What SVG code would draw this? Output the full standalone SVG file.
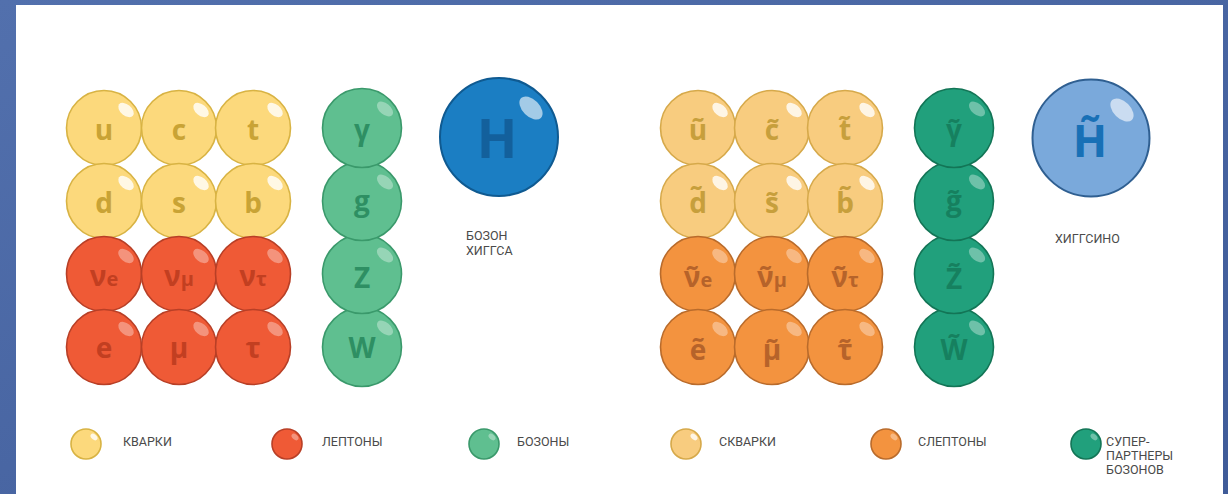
<svg xmlns="http://www.w3.org/2000/svg" width="1228" height="494" viewBox="0 0 1228 494">
<defs>
<linearGradient id="bg" x1="0" y1="0" x2="1" y2="1">
<stop offset="0" stop-color="#5270ad"/>
<stop offset="1" stop-color="#3f5b98"/>
</linearGradient>
</defs>
<style>
.q{fill:#fcd97c;stroke:#d8b343;stroke-width:1.6}
.l{fill:#ef5a36;stroke:#b83f26;stroke-width:1.6}
.b{fill:#5fbf90;stroke:#3a996b;stroke-width:1.6}
.sq{fill:#f8cc7f;stroke:#d6a94a;stroke-width:1.6}
.sl{fill:#f3933f;stroke:#b96b2b;stroke-width:1.6}
.sb{fill:#21a07c;stroke:#137556;stroke-width:1.6}
.h{fill:#1b7ec3;stroke:#0f5a91;stroke-width:2}
.hs{fill:#7aa9db;stroke:#2f5f91;stroke-width:2}
.hl{fill:#ffffff;opacity:0.8}
.hl2{fill:#ffffff;opacity:0.35}
.t{font-family:"Open Sans",sans-serif;font-weight:700;font-size:28px;text-anchor:middle}
.sub{font-size:20px}
.tq{fill:#c9a335}
.tlp{fill:#c23f21}
.tb{fill:#2e8f63}
.tsq{fill:#c79f3c}
.tsl{fill:#b6632a}
.tsb{fill:#16805f}
.lab{font-family:Roboto,"Liberation Sans",sans-serif;font-size:12.5px;fill:#4a4a4a}
</style>
<rect x="0" y="0" width="1228" height="494" fill="url(#bg)"/>
<rect x="16" y="5" width="1207" height="489" fill="#ffffff"/>

<!-- Left: quarks -->
<g id="u"><circle class="q" cx="104" cy="128" r="37.5"/><ellipse class="hl" cx="126" cy="110" rx="9" ry="5.5" transform="rotate(40 126 110)"/><text class="t tq" x="104" y="140">u</text></g>
<g id="c"><circle class="q" cx="179" cy="128" r="37.5"/><ellipse class="hl" cx="201" cy="110" rx="9" ry="5.5" transform="rotate(40 201 110)"/><text class="t tq" x="179" y="140">c</text></g>
<g id="t"><circle class="q" cx="253" cy="128" r="37.5"/><ellipse class="hl" cx="275" cy="110" rx="9" ry="5.5" transform="rotate(40 275 110)"/><text class="t tq" x="253" y="140">t</text></g>
<g id="d"><circle class="q" cx="104" cy="201" r="37.5"/><ellipse class="hl" cx="126" cy="183" rx="9" ry="5.5" transform="rotate(40 126 183)"/><text class="t tq" x="104" y="213">d</text></g>
<g id="s"><circle class="q" cx="179" cy="201" r="37.5"/><ellipse class="hl" cx="201" cy="183" rx="9" ry="5.5" transform="rotate(40 201 183)"/><text class="t tq" x="179" y="213">s</text></g>
<g id="b"><circle class="q" cx="253" cy="201" r="37.5"/><ellipse class="hl" cx="275" cy="183" rx="9" ry="5.5" transform="rotate(40 275 183)"/><text class="t tq" x="253" y="213">b</text></g>
<!-- Left: leptons -->
<g id="nue"><circle class="l" cx="104" cy="274" r="37.5"/><ellipse class="hl2" cx="126" cy="256" rx="9" ry="5.5" transform="rotate(40 126 256)"/><text class="t tlp" x="104" y="286">ν<tspan class="sub">e</tspan></text></g>
<g id="numu"><circle class="l" cx="179" cy="274" r="37.5"/><ellipse class="hl2" cx="201" cy="256" rx="9" ry="5.5" transform="rotate(40 201 256)"/><text class="t tlp" x="179" y="286">ν<tspan class="sub">μ</tspan></text></g>
<g id="nutau"><circle class="l" cx="253" cy="274" r="37.5"/><ellipse class="hl2" cx="275" cy="256" rx="9" ry="5.5" transform="rotate(40 275 256)"/><text class="t tlp" x="253" y="286">ν<tspan class="sub">τ</tspan></text></g>
<g id="e"><circle class="l" cx="104" cy="347" r="37.5"/><ellipse class="hl2" cx="126" cy="329" rx="9" ry="5.5" transform="rotate(40 126 329)"/><text class="t tlp" x="104" y="358">e</text></g>
<g id="mu"><circle class="l" cx="179" cy="347" r="37.5"/><ellipse class="hl2" cx="201" cy="329" rx="9" ry="5.5" transform="rotate(40 201 329)"/><text class="t tlp" x="179" y="358">μ</text></g>
<g id="tau"><circle class="l" cx="253" cy="347" r="37.5"/><ellipse class="hl2" cx="275" cy="329" rx="9" ry="5.5" transform="rotate(40 275 329)"/><text class="t tlp" x="253" y="358">τ</text></g>
<!-- Left: bosons -->
<g id="W"><circle class="b" cx="362" cy="347" r="39.5"/><ellipse class="hl2" cx="385" cy="328" rx="9.5" ry="5.5" transform="rotate(40 385 328)"/><text class="t tb" x="362" y="358">W</text></g>
<g id="Z"><circle class="b" cx="362" cy="274" r="39.5"/><ellipse class="hl2" cx="385" cy="255" rx="9.5" ry="5.5" transform="rotate(40 385 255)"/><text class="t tb" x="362" y="288">Z</text></g>
<g id="g"><circle class="b" cx="362" cy="201" r="39.5"/><ellipse class="hl2" cx="385" cy="182" rx="9.5" ry="5.5" transform="rotate(40 385 182)"/><text class="t tb" x="362" y="211">g</text></g>
<g id="gamma"><circle class="b" cx="362" cy="128" r="39.5"/><ellipse class="hl2" cx="385" cy="109" rx="9.5" ry="5.5" transform="rotate(40 385 109)"/><text class="t tb" x="362" y="140">γ</text></g>
<!-- Higgs -->
<g id="higgs"><circle class="h" cx="499" cy="137" r="59"/><ellipse class="hl" cx="531" cy="108" rx="14" ry="8.5" transform="rotate(45 531 108)" style="opacity:0.6"/><text class="t" x="497" y="158" style="font-size:53px;fill:#13609c">H</text>
<text class="lab" x="466" y="240">БОЗОН</text><text class="lab" x="466" y="255">ХИГГСА</text></g>

<!-- Right: squarks -->
<g id="su"><circle class="sq" cx="698" cy="128" r="37.5"/><ellipse class="hl" cx="720" cy="110" rx="9" ry="5.5" transform="rotate(40 720 110)"/><text class="t tsq" x="698" y="140">ũ</text></g>
<g id="sc"><circle class="sq" cx="772" cy="128" r="37.5"/><ellipse class="hl" cx="794" cy="110" rx="9" ry="5.5" transform="rotate(40 794 110)"/><text class="t tsq" x="772" y="140">c̃</text></g>
<g id="st"><circle class="sq" cx="845" cy="128" r="37.5"/><ellipse class="hl" cx="867" cy="110" rx="9" ry="5.5" transform="rotate(40 867 110)"/><text class="t tsq" x="845" y="140">t̃</text></g>
<g id="sd"><circle class="sq" cx="698" cy="201" r="37.5"/><ellipse class="hl" cx="720" cy="183" rx="9" ry="5.5" transform="rotate(40 720 183)"/><text class="t tsq" x="698" y="213">d̃</text></g>
<g id="ss"><circle class="sq" cx="772" cy="201" r="37.5"/><ellipse class="hl" cx="794" cy="183" rx="9" ry="5.5" transform="rotate(40 794 183)"/><text class="t tsq" x="772" y="213">s̃</text></g>
<g id="sb"><circle class="sq" cx="845" cy="201" r="37.5"/><ellipse class="hl" cx="867" cy="183" rx="9" ry="5.5" transform="rotate(40 867 183)"/><text class="t tsq" x="845" y="213">b̃</text></g>
<!-- Right: sleptons -->
<g id="snue"><circle class="sl" cx="698" cy="274" r="37.5"/><ellipse class="hl2" cx="720" cy="256" rx="9" ry="5.5" transform="rotate(40 720 256)"/><text class="t tsl" x="698" y="287">ν̃<tspan class="sub">e</tspan></text></g>
<g id="snumu"><circle class="sl" cx="772" cy="274" r="37.5"/><ellipse class="hl2" cx="794" cy="256" rx="9" ry="5.5" transform="rotate(40 794 256)"/><text class="t tsl" x="772" y="287">ν̃<tspan class="sub">μ</tspan></text></g>
<g id="snutau"><circle class="sl" cx="845" cy="274" r="37.5"/><ellipse class="hl2" cx="867" cy="256" rx="9" ry="5.5" transform="rotate(40 867 256)"/><text class="t tsl" x="845" y="287">ν̃<tspan class="sub">τ</tspan></text></g>
<g id="se"><circle class="sl" cx="698" cy="347" r="37.5"/><ellipse class="hl2" cx="720" cy="329" rx="9" ry="5.5" transform="rotate(40 720 329)"/><text class="t tsl" x="698" y="360">ẽ</text></g>
<g id="smu"><circle class="sl" cx="772" cy="347" r="37.5"/><ellipse class="hl2" cx="794" cy="329" rx="9" ry="5.5" transform="rotate(40 794 329)"/><text class="t tsl" x="772" y="360">μ̃</text></g>
<g id="stau"><circle class="sl" cx="845" cy="347" r="37.5"/><ellipse class="hl2" cx="867" cy="329" rx="9" ry="5.5" transform="rotate(40 867 329)"/><text class="t tsl" x="845" y="360">τ̃</text></g>
<!-- Right: gauginos -->
<g id="sW"><circle class="sb" cx="954" cy="347" r="39.5"/><ellipse class="hl2" cx="977" cy="328" rx="9.5" ry="5.5" transform="rotate(40 977 328)"/><text class="t tsb" x="954" y="360">W̃</text></g>
<g id="sZ"><circle class="sb" cx="954" cy="274" r="39.5"/><ellipse class="hl2" cx="977" cy="255" rx="9.5" ry="5.5" transform="rotate(40 977 255)"/><text class="t tsb" x="954" y="289">Z̃</text></g>
<g id="sg"><circle class="sb" cx="954" cy="201" r="39.5"/><ellipse class="hl2" cx="977" cy="182" rx="9.5" ry="5.5" transform="rotate(40 977 182)"/><text class="t tsb" x="954" y="211">g̃</text></g>
<g id="sgamma"><circle class="sb" cx="954" cy="128" r="39.5"/><ellipse class="hl2" cx="977" cy="109" rx="9.5" ry="5.5" transform="rotate(40 977 109)"/><text class="t tsb" x="954" y="140">γ̃</text></g>
<!-- Higgsino -->
<g id="higgsino"><circle class="hs" cx="1091" cy="138" r="58.5"/><ellipse class="hl" cx="1122" cy="110" rx="14" ry="8.5" transform="rotate(45 1122 110)" style="opacity:0.6"/><text class="t" x="1090" y="157" style="font-size:45px;fill:#1870b6">H̃</text>
<text class="lab" x="1055" y="243">ХИГГСИНО</text></g>

<!-- Legend -->
<g id="leg-quarks"><circle class="q" cx="86" cy="444" r="15"/><ellipse class="hl" cx="94" cy="437" rx="4" ry="2.5" transform="rotate(40 94 437)"/><text class="lab" x="123" y="446">КВАРКИ</text></g>
<g id="leg-leptons"><circle class="l" cx="287" cy="444" r="15"/><ellipse class="hl2" cx="295" cy="437" rx="4" ry="2.5" transform="rotate(40 295 437)"/><text class="lab" x="322" y="446">ЛЕПТОНЫ</text></g>
<g id="leg-bosons"><circle class="b" cx="484" cy="444" r="15"/><ellipse class="hl2" cx="492" cy="437" rx="4" ry="2.5" transform="rotate(40 492 437)"/><text class="lab" x="517" y="446">БОЗОНЫ</text></g>
<g id="leg-squarks"><circle class="sq" cx="686" cy="444" r="15"/><ellipse class="hl" cx="694" cy="437" rx="4" ry="2.5" transform="rotate(40 694 437)"/><text class="lab" x="719" y="446">СКВАРКИ</text></g>
<g id="leg-sleptons"><circle class="sl" cx="886" cy="444" r="15"/><ellipse class="hl2" cx="894" cy="437" rx="4" ry="2.5" transform="rotate(40 894 437)"/><text class="lab" x="918" y="446">СЛЕПТОНЫ</text></g>
<g id="leg-superpartners"><circle class="sb" cx="1086" cy="444" r="15"/><ellipse class="hl2" cx="1094" cy="437" rx="4" ry="2.5" transform="rotate(40 1094 437)"/><text class="lab" x="1106" y="446">СУПЕР-</text><text class="lab" x="1106" y="460">ПАРТНЕРЫ</text><text class="lab" x="1106" y="474">БОЗОНОВ</text></g>
</svg>
